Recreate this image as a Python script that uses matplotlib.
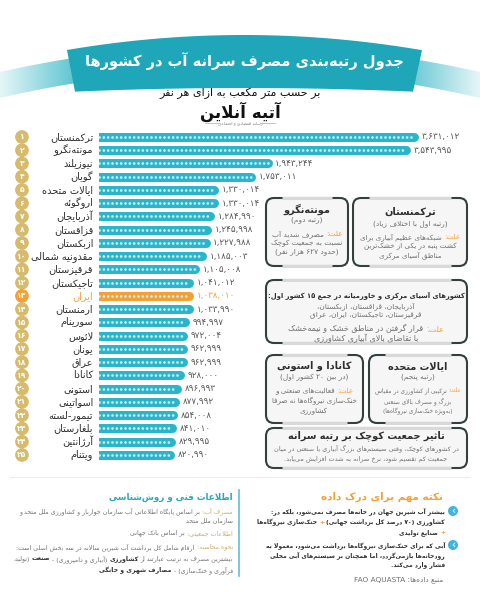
import numpy as np
import matplotlib
matplotlib.use('Agg')
import matplotlib.pyplot as plt
from matplotlib.patches import FancyBboxPatch, Polygon, Circle
from matplotlib.colors import LinearSegmentedColormap
from matplotlib.transforms import blended_transform_factory

# Countries in rank order, per capita water withdrawal (m3 per person)
countries = ['ترکمنستان', 'مونته\u200cنگرو', 'نیوزیلند', 'گویان', 'ایالات متحده',
             'اروگوئه', 'آذربایجان', 'قزاقستان', 'ازبکستان', 'مقدونیه شمالی',
             'قرقیزستان', 'تاجیکستان', 'ایران', 'ارمنستان', 'سورینام',
             'لائوس', 'یونان', 'عراق', 'کانادا', 'استونی',
             'اسواتینی', 'تیمور-لسته', 'بلغارستان', 'آرژانتین', 'ویتنام']
water_use = [3631.012, 3543.995, 1943.244, 1753.011, 1330.014,
             1330.014, 1284.990, 1245.998, 1227.988, 1185.003,
             1105.008, 1041.012, 1038.010, 1033.990, 994.997,
             972.004, 962.999, 962.999, 928.000, 896.993,
             877.992, 854.008, 841.010, 829.995, 820.990]
highlight = 'ایران'

TEAL = '#2ab5cb'
ORANGE = '#f4a034'
GOLD = '#d6bb6c'
DARK = '#2e2e2e'
GRAY = '#6f6f6f'
TAN = '#c9ab6a'

# --- minimal arabic/persian shaping + right-to-left ordering ---
# matplotlib has no text shaping, so map letters to presentation forms
_form_table = [('\u0621', 0xFE80, 1), ('\u0622', 0xFE81, 2), ('\u0623', 0xFE83, 2),
               ('\u0624', 0xFE85, 2), ('\u0625', 0xFE87, 2), ('\u0626', 0xFE89, 4),
               ('\u0627', 0xFE8D, 2), ('\u0628', 0xFE8F, 4), ('\u0629', 0xFE93, 2),
               ('\u062A', 0xFE95, 4), ('\u062B', 0xFE99, 4), ('\u062C', 0xFE9D, 4),
               ('\u062D', 0xFEA1, 4), ('\u062E', 0xFEA5, 4), ('\u062F', 0xFEA9, 2),
               ('\u0630', 0xFEAB, 2), ('\u0631', 0xFEAD, 2), ('\u0632', 0xFEAF, 2),
               ('\u0633', 0xFEB1, 4), ('\u0634', 0xFEB5, 4), ('\u0635', 0xFEB9, 4),
               ('\u0636', 0xFEBD, 4), ('\u0637', 0xFEC1, 4), ('\u0638', 0xFEC5, 4),
               ('\u0639', 0xFEC9, 4), ('\u063A', 0xFECD, 4), ('\u0641', 0xFED1, 4),
               ('\u0642', 0xFED5, 4), ('\u0643', 0xFED9, 4), ('\u0644', 0xFEDD, 4),
               ('\u0645', 0xFEE1, 4), ('\u0646', 0xFEE5, 4), ('\u0647', 0xFEE9, 4),
               ('\u0648', 0xFEED, 2), ('\u0649', 0xFEEF, 2), ('\u064A', 0xFEF1, 4),
               ('\u067E', 0xFB56, 4), ('\u0686', 0xFB7A, 4), ('\u0698', 0xFB8A, 2),
               ('\u06A9', 0xFB8E, 4), ('\u06AF', 0xFB92, 4), ('\u06CC', 0xFBFC, 4)]
FORMS = {c: tuple(chr(start + k) for k in range(n)) for c, start, n in _form_table}
LAM_ALEF = {'\u0622': 0xFEF5, '\u0623': 0xFEF7, '\u0625': 0xFEF9, '\u0627': 0xFEFB}
MIRROR = {'(': ')', ')': '(', '[': ']', ']': '[', '«': '»', '»': '«'}
FA_DIGITS = str.maketrans('0123456789', '۰۱۲۳۴۵۶۷۸۹')


def fa_num(s):
    return str(s).translate(FA_DIGITS)


def shape(text):
    out = []
    n = len(text)
    i = 0
    while i < n:
        c = text[i]
        if c not in FORMS:
            out.append(c)
            i += 1
            continue
        prev = text[i - 1] if i > 0 else ''
        pc = prev in FORMS and len(FORMS[prev]) == 4
        if c == '\u0644' and i + 1 < n and text[i + 1] in LAM_ALEF:
            out.append(chr(LAM_ALEF[text[i + 1]] + (1 if pc else 0)))
            i += 2
            continue
        nxt = text[i + 1] if i + 1 < n else ''
        f = FORMS[c]
        nc = len(f) == 4 and nxt in FORMS and len(FORMS[nxt]) >= 2
        if len(f) == 1:
            out.append(f[0])
        elif len(f) == 2:
            out.append(f[1] if pc else f[0])
        else:
            if pc and nc:
                out.append(f[3])
            elif nc:
                out.append(f[2])
            elif pc:
                out.append(f[1])
            else:
                out.append(f[0])
        i += 1
    return ''.join(ch for ch in out if ch != '\u200c')


def is_ltr(ch):
    return (ch.isascii() and ch.isalnum()) or '\u06f0' <= ch <= '\u06f9'


def is_rtl(ch):
    o = ord(ch)
    return (0x0600 <= o <= 0x06FF and not is_ltr(ch)) or 0xFB50 <= o <= 0xFDFF or 0xFE70 <= o <= 0xFEFF


def visual(text):
    s = shape(text)
    units = []
    i = 0
    while i < len(s):
        if is_ltr(s[i]):
            k = i
            last = i
            while k < len(s) and not is_rtl(s[k]):
                if is_ltr(s[k]):
                    last = k
                k += 1
            units.append(s[i:last + 1])
            i = last + 1
        else:
            units.append(MIRROR.get(s[i], s[i]))
            i += 1
    return ''.join(reversed(units))


# --- figure ---
fig = plt.figure(figsize=(4.8, 6), dpi=100)
fig.patch.set_facecolor('white')
bg = fig.add_axes([0, 0, 1, 1], zorder=0)
bg.axis('off')
bg.set_xlim(0, 480)
bg.set_ylim(600, 0)


def text_block(x, rows, size, ha='right', maxw=None):
    # rows: list of (y, parts); parts in reading order, laid out right to left.
    # DejaVu's arabic is wide, so the whole block shrinks to fit maxw.
    renderer = fig.canvas.get_renderer()
    drawn = []
    for y, parts in rows:
        if isinstance(parts, str):
            parts = [(parts, GRAY, 'normal')]
        drawn.append([bg.text(x, y, visual(t), fontsize=size, color=c, fontweight=w,
                              ha='right', va='center', zorder=5) for t, c, w in parts])

    def widths(items):
        return [t.get_window_extent(renderer).width for t in items]

    if maxw:
        widest = max(sum(widths(it)) + size * 0.45 * (len(it) - 1) for it in drawn)
        if widest > maxw:
            size = size * maxw / widest
            for it in drawn:
                for t in it:
                    t.set_fontsize(size)
    gap = size * 0.45
    for it in drawn:
        ws = widths(it)
        total = sum(ws) + gap * (len(it) - 1)
        right = x if ha == 'right' else x + total / 2
        for t, w in zip(it, ws):
            t.set_x(right)
            right -= w + gap


def box(x0, y0, x1, y1):
    bg.add_patch(FancyBboxPatch((x0, y0), x1 - x0, y1 - y0,
                                boxstyle='round,pad=0,rounding_size=8',
                                fc='#f6f6f6', ec='#34403f', lw=1.5, zorder=2))
    for yy in (y0, y1):
        bg.plot([x0 + 16, x1 - 16], [yy, yy], color='#d9d9d9', lw=2.2,
                solid_capstyle='butt', zorder=3)


def why(text):
    return [('علت:', ORANGE, 'normal'), (text, GRAY, 'normal')]


# title ribbon with fading tails
fade = LinearSegmentedColormap.from_list('fade', ['#e6f6f8', '#55c2cf'])
grad = np.linspace(0, 1, 256)[None, :]
for x0, x1, g in ((0, 80, grad), (400, 480, grad[:, ::-1])):
    xs = np.linspace(x0, x1, 40)
    tail = np.column_stack([np.r_[xs, xs[::-1]],
                            np.r_[45 + 27 * ((xs - 240) / 240) ** 2,
                                  (70 + 28 * ((xs - 240) / 240) ** 2)[::-1]]])
    img = bg.imshow(g, cmap=fade, extent=(x0, x1, 105, 40), aspect='auto', zorder=1)
    p = Polygon(tail, closed=True, fc='none', ec='none')
    bg.add_patch(p)
    img.set_clip_path(p)

xt = np.linspace(67, 422, 80)
xb = np.linspace(413, 75, 80)
ribbon = np.column_stack([np.r_[xt, xb],
                          np.r_[35 + 15 * ((xt - 244) / 177) ** 2,
                                88 + 4 * ((xb - 244) / 177) ** 2]])
bg.add_patch(Polygon(ribbon, closed=True, fc='#1fa6b8', ec='none', zorder=2))

text_block(244, [(61, [('جدول رتبه\u200cبندی مصرف سرانه آب در کشورها', 'white', 'bold')])],
           13, 'center', maxw=318)
text_block(240, [(93, [('بر حسب متر مکعب به ازای هر نفر', '#111111', 'normal')])], 8, 'center')
text_block(240, [(112, [('آتیه آنلاین', '#111111', 'bold')])], 12, 'center')
text_block(240, [(123, [('رسانه اقتصادی و اجتماعی', '#777777', 'normal')])], 3, 'center')
bg.plot([205, 220], [123, 123], color='#aaaaaa', lw=0.5)
bg.plot([260, 275], [123, 123], color='#aaaaaa', lw=0.5)

# --- bars ---
ax = fig.add_axes([99 / 480, (600 - 461.6) / 600, 321 / 480, 331.25 / 600], zorder=3)
ax.set_xlim(0, 3700)
ax.set_ylim(len(countries) + 0.5, 0.5)
ax.axis('off')

ranks = np.arange(1, len(countries) + 1)
colors = [ORANGE if c == highlight else TEAL for c in countries]
ax.hlines(ranks, 0, water_use, colors=colors, linewidth=6.5, capstyle='round')
ax.hlines(ranks, 0, water_use, colors='#c9f1f7', linewidth=2.0,
          linestyles=[(0, (0.01, 1.55))], capstyle='round')

trans = blended_transform_factory(ax.transAxes, ax.transData)
ax.scatter(np.full(len(ranks), -0.24), ranks, s=78,
           c=[ORANGE if c == highlight else GOLD for c in countries],
           transform=trans, clip_on=False)
for r, name, v in zip(ranks, countries, water_use):
    hot = name == highlight
    ax.text(-0.24, r, fa_num(r), transform=trans, ha='center', va='center',
            color='white', fontsize=5.5, fontweight='bold')
    ax.text(-0.018, r, visual(name), transform=trans, ha='right', va='center',
            color=ORANGE if hot else DARK, fontsize=7)
    label = fa_num(f'{v:,.3f}'.replace('.', ','))
    ax.annotate(label, xy=(v, r), xytext=(5.5, 0), textcoords='offset points',
                ha='left', va='center', fontsize=6.3, color=ORANGE if hot else '#555555')

# --- note boxes ---
box(353, 198, 467, 266)
text_block(410, [(212, [('ترکمنستان', DARK, 'bold')])], 7, 'center')
text_block(410, [(224, '(رتبه اول با اختلاف زیاد)')], 5.3, 'center', maxw=100)
text_block(410, [(237, why('شبکه\u200cهای عظیم آبیاری برای')),
                 (246, 'کشت پنبه در یکی از خشک\u200cترین'),
                 (255, 'مناطق آسیای مرکزی')], 5.3, 'center', maxw=102)

box(266, 198, 348, 266)
text_block(307, [(209, [('مونته\u200cنگرو', DARK, 'bold')])], 7, 'center')
text_block(307, [(220, '(رتبه دوم)')], 5.3, 'center')
text_block(307, [(234, why('مصرف شدید آب')),
                 (243, 'نسبت به جمعیت کوچک'),
                 (252, '(حدود ۶۲۷ هزار نفر)')], 5.3, 'center', maxw=74)

box(266, 280, 467, 343)
text_block(366, [(296, [('کشورهای آسیای مرکزی و خاورمیانه در جمع ۱۵ کشور اول:', DARK, 'bold')])],
           6.5, 'center', maxw=194)
text_block(366, [(306, 'آذربایجان، قزاقستان، ازبکستان،'),
                 (315, 'قرقیزستان، تاجیکستان، ایران، عراق')], 5.3, 'center', maxw=190)
text_block(366, [(329, why('قرار گرفتن در مناطق خشک و نیمه\u200cخشک')),
                 (338, 'با تقاضای بالای آبیاری کشاورزی')], 5.8, 'center', maxw=186)

box(266, 355, 363, 423)
text_block(314, [(366, [('کانادا و استونی', DARK, 'bold')])], 7, 'center', maxw=88)
text_block(314, [(377, '(در بین ۲۰ کشور اول)')], 5.3, 'center', maxw=86)
text_block(314, [(391, why('فعالیت\u200cهای صنعتی و')),
                 (401, 'خنک\u200cسازی نیروگاه\u200cها نه صرفا'),
                 (411, 'کشاورزی')], 5.3, 'center', maxw=86)

box(369, 355, 467, 423)
text_block(418, [(366, [('ایالات متحده', DARK, 'bold')])], 7, 'center', maxw=88)
text_block(418, [(377, '(رتبه پنجم)')], 5.3, 'center')
text_block(418, [(391, why('ترکیبی از کشاورزی در مقیاس')),
                 (401, 'بزرگ و مصرف بالای صنعتی'),
                 (411, '(به\u200cویژه خنک\u200cسازی نیروگاه\u200cها)')], 5.3, 'center', maxw=88)

box(266, 428, 467, 468)
text_block(366, [(436, [('تاثیر جمعیت کوچک بر رتبه سرانه', DARK, 'bold')])], 7, 'center', maxw=190)
text_block(366, [(448, 'در کشورهای کوچک، وقتی سیستم\u200cهای بزرگ آبیاری یا صنعتی در میان'),
                 (459, 'جمعیت کم تقسیم شود، نرخ سرانه به شدت افزایش می\u200cیابد.')],
           5.3, 'center', maxw=184)

# --- footer ---
bg.plot([10, 470], [477, 477], color='#ececec', lw=0.8)

text_block(443, [(497, [('نکته مهم برای درک داده', ORANGE, 'bold')])], 7.5)
for yy in (511, 545):
    bg.add_patch(Circle((453, yy), 5, fc='#3fb4e2', ec='none', zorder=4))
    bg.text(453, yy, '‹', color='white', fontsize=7, fontweight='bold',
            ha='center', va='center', zorder=5)
text_block(445, [(511, [('بیشتر آب شیرین جهان در خانه\u200cها مصرف نمی\u200cشود، بلکه در:', DARK, 'bold')]),
                 (522, [('کشاورزی (۷۰ درصد کل برداشت جهانی)', DARK, 'bold'), ('+', ORANGE, 'bold'),
                        ('خنک\u200cسازی نیروگاه\u200cها', DARK, 'bold')]),
                 (533, [('+', ORANGE, 'bold'), ('صنایع تولیدی', DARK, 'bold')]),
                 (545, [('آبی که برای خنک\u200cسازی نیروگاه\u200cها برداشت می\u200cشود، معمولا به', DARK, 'bold')]),
                 (555, [('رودخانه\u200cها بازمی\u200cگردد، اما همچنان بر سیستم\u200cهای آبی محلی', DARK, 'bold')]),
                 (565, [('فشار وارد می\u200cکند.', DARK, 'bold')])], 6, maxw=186)
text_block(443, [(580, 'منبع داده\u200cها: FAO AQUASTA')], 5.3)

bg.plot([239, 239], [490, 576], color='#5ec0d8', lw=1.2)
text_block(233, [(497, [('اطلاعات فنی و روش\u200cشناسی', '#2aa7b8', 'bold')])], 6.3)
text_block(233, [(511, [('مصرف آب:', TAN, 'normal'),
                        ('بر اساس پایگاه اطلاعاتی آب سازمان خواربار و کشاورزی ملل متحد و', GRAY, 'normal')]),
                 (521, 'سازمان ملل متحد'),
                 (533, [('اطلاعات جمعیتی:', TAN, 'normal'), ('بر اساس بانک جهانی', GRAY, 'normal')]),
                 (547, [('نحوه محاسبه:', TAN, 'normal'),
                        ('ارقام شامل کل برداشت آب شیرین سالانه در سه بخش اصلی است:', GRAY, 'normal')]),
                 (559, [('بیشترین مصرف به ترتیب عبارتند از', GRAY, 'normal'), ('کشاورزی', DARK, 'bold'),
                        ('(آبیاری و دامپروری) -', GRAY, 'normal'), ('صنعت', DARK, 'bold'),
                        ('(تولید،', GRAY, 'normal')]),
                 (570, [('فرآوری و خنک\u200cسازی) -', GRAY, 'normal'),
                        ('مصارف شهری و خانگی', DARK, 'bold')])], 5.3, maxw=222)

fig.savefig('out.png', dpi=100)
